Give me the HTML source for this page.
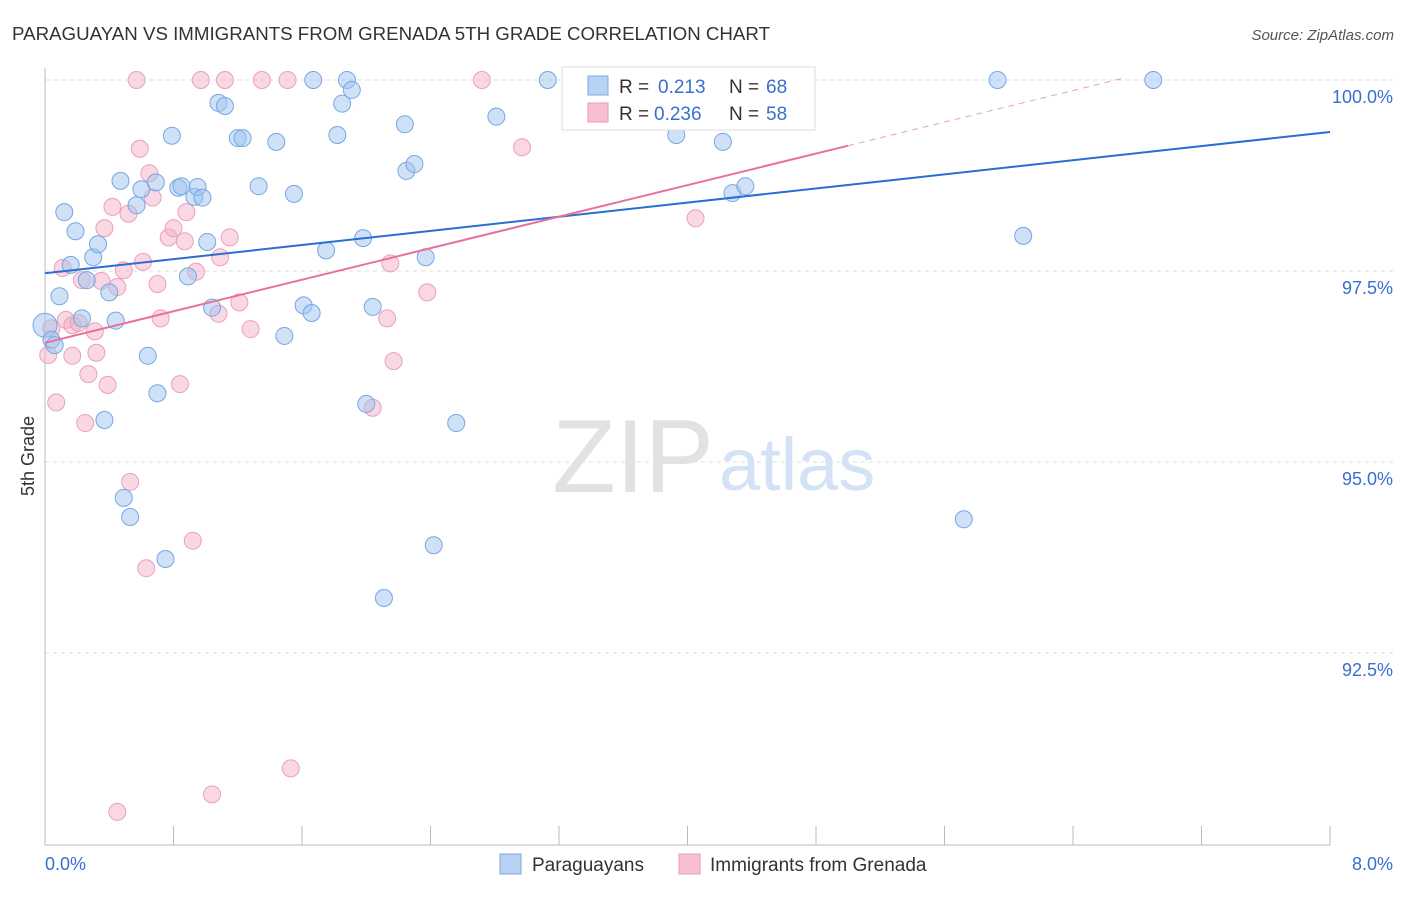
<!DOCTYPE html>
<html><head><meta charset="utf-8"><style>
body{margin:0;background:#fff;font-family:"Liberation Sans",sans-serif}
svg text{font-family:"Liberation Sans",sans-serif}
</style></head><body>
<svg width="1406" height="892" xmlns="http://www.w3.org/2000/svg">
<text x="12" y="40" font-size="18" fill="#333" textLength="758" lengthAdjust="spacingAndGlyphs">PARAGUAYAN VS IMMIGRANTS FROM GRENADA 5TH GRADE CORRELATION CHART</text>
<text x="1394" y="40" font-size="15" fill="#555" font-style="italic" text-anchor="end">Source: ZipAtlas.com</text>
<g id="grid"></g>
<text x="714" y="492" font-size="104" fill="#e2e2e2" font-family="Liberation Serif" text-anchor="end">ZIP</text>
<text x="719" y="490" font-size="74" fill="#d3e3f5">atlas</text>
<g id="axes"></g>
<g id="pts"></g>
<g id="lines"></g>
<text transform="translate(34,456) rotate(-90)" font-size="18" fill="#333" text-anchor="middle">5th Grade</text>
<g>
<rect x="562" y="67" width="253" height="63" fill="#fff" stroke="#ddd"/>
<rect x="588" y="76" width="20" height="19" fill="#b8d2f4" stroke="#7aa8e4"/>
<rect x="588" y="103" width="20" height="19" fill="#f6c0d2" stroke="#ec9ab8"/>
<text x="619" y="93" font-size="19" fill="#333">R =</text>
<text x="658" y="93" font-size="19" fill="#3a6fcf">0.213</text>
<text x="729" y="93" font-size="19" fill="#333">N =</text>
<text x="766" y="93" font-size="19" fill="#3a6fcf">68</text>
<text x="619" y="120" font-size="19" fill="#333">R =</text>
<text x="654" y="120" font-size="19" fill="#3a6fcf">0.236</text>
<text x="729" y="120" font-size="19" fill="#333">N =</text>
<text x="766" y="120" font-size="19" fill="#3a6fcf">58</text>
</g>
<g>
<rect x="500" y="854" width="21" height="20" fill="#b8d2f4" stroke="#7aa8e4"/>
<text x="532" y="871" font-size="19" fill="#333">Paraguayans</text>
<rect x="679" y="854" width="21" height="20" fill="#f6c0d2" stroke="#ec9ab8"/>
<text x="710" y="871" font-size="19" fill="#333">Immigrants from Grenada</text>
</g>
</svg>
<script>
const blueX=[0.00,0.04,0.06,0.09,0.12,0.19,0.16,0.23,0.26,0.30,0.33,0.37,0.40,0.44,0.47,0.49,0.53,0.57,0.60,0.64,0.69,0.70,0.75,0.79,0.83,0.85,0.89,0.93,0.95,0.98,1.01,1.04,1.08,1.12,1.20,1.23,1.33,1.44,1.49,1.55,1.61,1.66,1.67,1.75,1.82,1.85,1.88,1.91,1.98,2.00,2.04,2.11,2.24,2.25,2.30,2.37,2.42,2.56,2.81,3.13,3.40,3.93,4.22,4.28,4.36,5.72,5.93,6.09,6.90];
const blueY=[96.79,96.60,96.53,97.17,98.27,98.02,97.58,96.88,97.38,97.68,97.85,95.55,97.22,96.85,98.68,94.53,94.28,98.36,98.57,96.39,98.66,95.90,93.73,99.27,98.59,98.61,97.43,98.47,98.60,98.46,97.88,97.02,99.70,99.66,99.24,99.24,98.61,99.19,96.65,98.51,97.05,96.95,100.0,97.77,99.28,99.69,100.0,99.87,97.93,95.76,97.03,93.22,99.42,98.81,98.90,97.68,93.91,95.51,99.52,100.0,99.69,99.28,99.19,98.52,98.61,94.25,100.0,97.96,100.0];
const pinkX=[0.02,0.04,0.07,0.11,0.13,0.17,0.17,0.21,0.23,0.25,0.27,0.31,0.32,0.35,0.37,0.39,0.42,0.45,0.49,0.52,0.53,0.57,0.59,0.61,0.63,0.65,0.67,0.70,0.72,0.77,0.80,0.84,0.87,0.88,0.92,0.94,0.97,1.04,1.08,1.09,1.12,1.15,1.21,1.28,1.35,1.51,1.53,2.04,2.13,2.15,2.17,2.38,2.72,2.97,4.05,4.73,0.45];
const pinkY=[96.40,96.75,95.78,97.54,96.86,96.79,96.39,96.82,97.38,95.51,96.15,96.71,96.43,97.37,98.06,96.01,98.34,97.29,97.51,98.25,94.74,100.0,99.10,97.62,93.61,98.78,98.46,97.33,96.88,97.94,98.06,96.02,97.89,98.27,93.97,97.49,100.0,90.65,96.94,97.68,100.0,97.94,97.09,96.74,100.0,100.0,90.99,95.71,96.88,97.60,96.32,97.22,100.0,99.12,98.19,99.75,90.42];
const blueTrend=[97.47,99.32];
const pinkTrend=[96.56,99.14];
const yTicks=[100,97.5,95,92.5];
const yTickLabels=["100.0%","97.5%","95.0%","92.5%"];
const NS="http://www.w3.org/2000/svg";
const X=v=>45+v*160.625, Y=v=>80+(100-v)*76.4;
function mk(p,t,a){const e=document.createElementNS(NS,t);for(const k in a)e.setAttribute(k,a[k]);document.getElementById(p).appendChild(e);return e;}
yTicks.forEach((t,i)=>{
 const l=mk('grid','line',{x1:45,x2:1394,y1:Y(t),y2:Y(t),stroke:'#ddd','stroke-dasharray':'4,4'});
 
 
 const tx=mk('grid','text',{x:1393,y:Y(t)+23,'font-size':18,fill:'#3a6fcf','text-anchor':'end'});
 tx.textContent=yTickLabels[i];
 
 
});
let a=mk('axes','line',{x1:45,x2:45,y1:68,y2:845,stroke:'#bbb'});


a=mk('axes','line',{x1:45,x2:1330,y1:845,y2:845,stroke:'#bbb'});


for(let i=1;i<=10;i++){const t=mk('axes','line',{x1:X(i*0.8),x2:X(i*0.8),y1:826,y2:845,stroke:'#bbb'});
 
 }
let t0=mk('axes','text',{x:45,y:870,'font-size':18,fill:'#3a6fcf'});t0.textContent='0.0%';


let t1=mk('axes','text',{x:1393,y:870,'font-size':18,fill:'#3a6fcf','text-anchor':'end'});t1.textContent='8.0%';


pinkX.forEach((x,i)=>{const c=mk('pts','circle',{cx:X(x),cy:Y(pinkY[i]),r:8.5,fill:'rgba(244,176,200,0.5)',stroke:'#eba0bb','stroke-width':1});
 
 });
blueX.forEach((x,i)=>{const c=mk('pts','circle',{cx:X(x),cy:Y(blueY[i]),r:i==0?12:8.5,fill:'rgba(160,195,240,0.5)',stroke:'#78a6e2','stroke-width':1});
 
 });
let L=mk('lines','line',{x1:X(0),y1:Y(blueTrend[0]),x2:X(8),y2:Y(blueTrend[1]),stroke:'#2a6dd4','stroke-width':2});


L=mk('lines','line',{x1:X(0),y1:Y(pinkTrend[0]),x2:X(5),y2:Y(pinkTrend[1]),stroke:'#e8709a','stroke-width':2});


const slope=(pinkTrend[1]-pinkTrend[0])/5, xe=5+(100.03-pinkTrend[1])/slope;
L=mk('lines','line',{x1:X(5),y1:Y(pinkTrend[1]),x2:X(xe),y2:Y(100.03),stroke:'#eba0bb','stroke-width':1,'stroke-dasharray':'6,5'});


</script>
</body></html>
